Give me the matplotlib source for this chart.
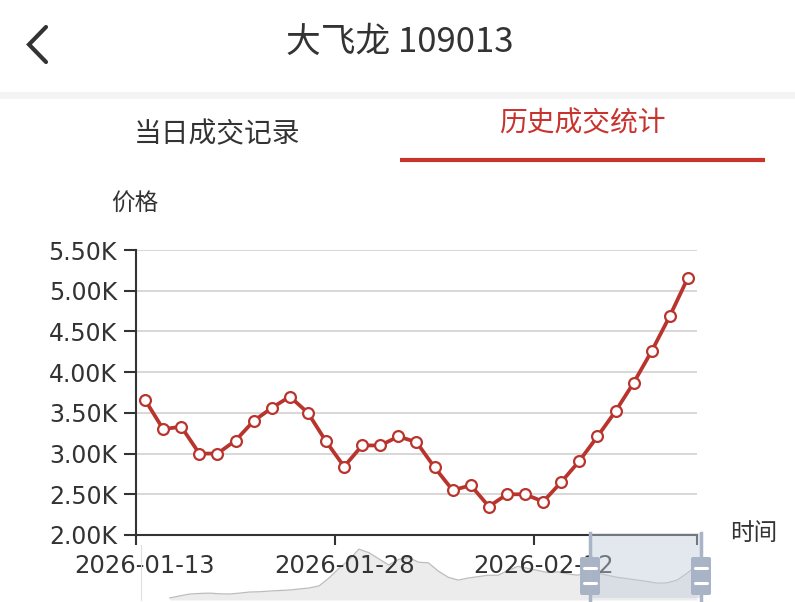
import matplotlib
matplotlib.use('Agg')
from matplotlib import pyplot as plt
from matplotlib import ticker
from matplotlib.patches import Rectangle, FancyBboxPatch
import numpy as np

plt.rcParams['font.family'] = ['DejaVu Sans']
CJK = ['Noto Sans CJK SC', 'DejaVu Sans']

# ---- data ----
title = '大飞龙 109013'
tabs = ['当日成交记录', '历史成交统计']
y_name = '价格'
x_name = '时间'

dates = ['2026-01-13', '2026-01-14', '2026-01-15', '2026-01-16', '2026-01-19',
         '2026-01-20', '2026-01-21', '2026-01-22', '2026-01-23', '2026-01-26',
         '2026-01-27', '2026-01-28', '2026-01-29', '2026-01-30', '2026-02-02',
         '2026-02-03', '2026-02-04', '2026-02-05', '2026-02-06', '2026-02-09',
         '2026-02-10', '2026-02-11', '2026-02-12', '2026-02-13', '2026-02-24',
         '2026-02-25', '2026-02-26', '2026-02-27', '2026-03-02', '2026-03-03',
         '2026-03-04']
prices = [3660, 3300, 3330, 3000, 3000, 3160, 3400, 3560, 3700, 3500,
          3150, 2840, 3100, 3100, 3210, 3140, 2830, 2550, 2610, 2350,
          2500, 2500, 2410, 2650, 2910, 3210, 3520, 3870, 4260, 4690,
          5160]

# full-history overview shown in the zoom slider (relative units)
overview = [0.3, 0.6, 0.87, 0.95, 1.0, 0.9, 0.87, 1.0, 1.16, 1.2,
            1.3, 1.38, 1.45, 1.6, 1.75, 2.05, 3.2, 4.6, 5.8, 7.4,
            6.9, 6.0, 5.1, 5.9, 6.2, 5.5, 5.4, 4.2, 3.3, 2.9,
            3.2, 3.4, 3.6, 3.6, 4.3, 4.9, 4.6, 4.3, 4.0, 4.1,
            3.8, 3.6, 4.1, 3.9, 3.6, 3.3, 3.1, 2.9, 2.7, 2.45,
            2.5, 2.9, 3.9, 5.1]

label_step = 11

# ---- style ----
W, H = 795, 602
RED = '#b9342d'
TAB_RED = '#c9332e'
DARK = '#333333'


def px_box(l, t, r, b):
    return [l / W, 1 - b / H, (r - l) / W, (b - t) / H]


fig = plt.figure(figsize=(W / 100, H / 100), dpi=100)
fig.patch.set_facecolor('white')

# overview slider
ax_ov = fig.add_axes(px_box(141, 533, 700, 600))
ax_ov.set_zorder(0)
ox = np.arange(len(overview))
ax_ov.fill_between(ox, overview, 0, color='#ececec', lw=0)
ax_ov.plot(ox, overview, color='#bcbcbc', lw=0.9)
ax_ov.set_xlim(-2.9, 53.3)
ax_ov.set_ylim(0, 9.75)
ax_ov.axis('off')

# main chart
ax = fig.add_axes(px_box(136, 250, 697, 535))
ax.set_zorder(2)
ax.patch.set_alpha(0)
x = np.arange(len(prices))
ax.plot(x, prices, color=RED, lw=2.7, marker='o', ms=7.8,
        mfc='white', mec=RED, mew=1.6, zorder=3, clip_on=False)

ax.set_xlim(-0.5, len(prices) - 0.5)
ax.set_ylim(2000, 5500)
ax.yaxis.set_major_locator(ticker.MultipleLocator(500))
ax.yaxis.set_major_formatter(ticker.FuncFormatter(lambda v, p: f'{v / 1000:.2f}K'))
ax.grid(axis='y', color='#d4d4d4', lw=1.3)
ax.set_axisbelow(True)

for s in ['top', 'right']:
    ax.spines[s].set_visible(False)
for s in ['left', 'bottom']:
    ax.spines[s].set_color(DARK)
    ax.spines[s].set_linewidth(1.5)

ax.tick_params(axis='y', length=8.6, width=1.5, color=DARK,
               labelsize=17, labelcolor=DARK, pad=5)

lab_idx = np.arange(0, len(dates), label_step)
ax.set_xticks(list(lab_idx - 0.5) + [len(dates) - 0.5])
ax.set_xticklabels([])
ax.tick_params(axis='x', which='major', length=7.2, width=1.5, color=DARK)
ax.set_xticks(lab_idx, minor=True)
ax.set_xticklabels([dates[i] for i in lab_idx], minor=True)
ax.tick_params(axis='x', which='minor', length=0, labelsize=17.5,
               labelcolor=DARK, pad=13.5)

# app chrome overlay (pixel coordinates)
ui = fig.add_axes([0, 0, 1, 1])
ui.set_zorder(5)
ui.patch.set_alpha(0)
ui.set_xlim(0, W)
ui.set_ylim(H, 0)
ui.axis('off')

ui.add_patch(Rectangle((0, 92), W, 7, color='#f4f4f4', lw=0))
ui.plot([46, 29, 46], [27, 44.5, 62], color=DARK, lw=3,
        solid_capstyle='round', solid_joinstyle='miter')
ui.text(400, 42, title, fontsize=25, ha='center', va='center',
        color=DARK, family=CJK)
ui.text(217, 134, tabs[0], fontsize=20, ha='center', va='center',
        color=DARK, family=CJK)
ui.text(582, 123, tabs[1], fontsize=20, ha='center', va='center',
        color=TAB_RED, family=CJK)
ui.plot([400, 765], [160, 160], color=TAB_RED, lw=3, solid_capstyle='butt')

ui.text(135, 203, y_name, fontsize=17, ha='center', va='center',
        color=DARK, family=CJK)
ui.text(754, 533, x_name, fontsize=17, ha='center', va='center',
        color=DARK, family=CJK)

# slider window + handles
ui.plot([141, 141], [545, 600], color='#e0e0e0', lw=0.8)
ui.add_patch(Rectangle((590, 533), 111, 65, color='#c3ccdc', alpha=0.45, lw=0))
for hx in [590, 701]:
    ui.plot([hx, hx], [533, 600], color='#a9b4c6', lw=2.5)
    ui.add_patch(FancyBboxPatch((hx - 10, 557), 20, 38,
                                boxstyle='round,pad=0,rounding_size=2',
                                fc='#a8b3c6', ec='none'))
    for dy in [568, 583]:
        ui.plot([hx - 6, hx + 6], [dy, dy], color='white', lw=2.2,
                solid_capstyle='round')

fig.savefig('out.png', dpi=100)
